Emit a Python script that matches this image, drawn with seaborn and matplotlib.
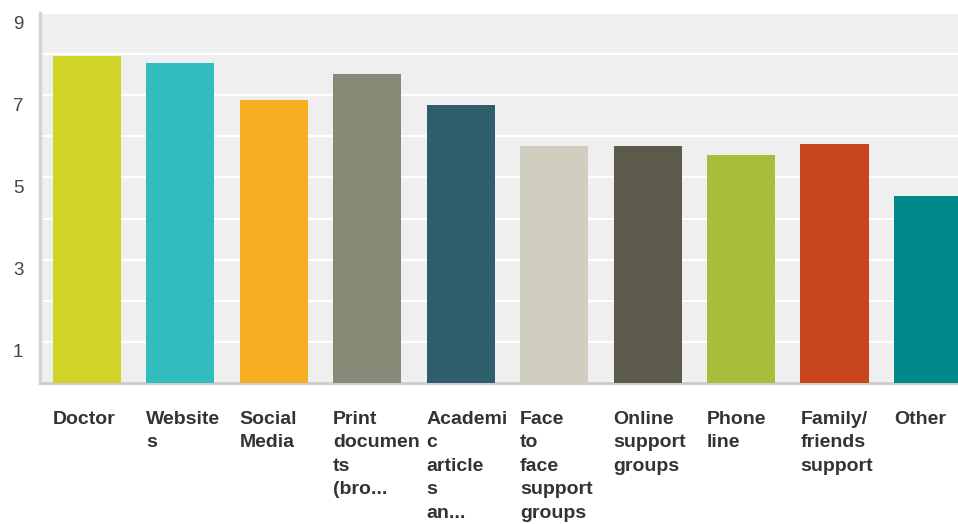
import matplotlib
matplotlib.use("Agg")
import matplotlib.pyplot as plt
import matplotlib.transforms as mtransforms
import seaborn as sns
import pandas as pd

# data
categories = ["Doctor", "Websites", "Social Media", "Print documents (brochures)",
              "Academic articles and", "Face to face support groups",
              "Online support groups", "Phone line", "Family/ friends support", "Other"]
tick_labels = ["Doctor", "Website\ns", "Social\nMedia", "Print\ndocumen\nts\n(bro...",
               "Academi\nc\narticle\ns\nan...", "Face\nto\nface\nsupport\ngroups",
               "Online\nsupport\ngroups", "Phone\nline", "Family/\nfriends\nsupport", "Other"]
values = [7.96, 7.79, 6.89, 7.52, 6.76, 5.77, 5.77, 5.54, 5.81, 4.55]
colors = ["#cfd427", "#33bdbe", "#f6ae22", "#888a78", "#2e5e6b",
          "#cfcebf", "#5c5a4a", "#aabd3a", "#c8461c", "#00898a"]

df = pd.DataFrame({"source": categories, "score": values})

sns.set_style("white")
plt.rcParams['font.family'] = ['Liberation Sans', 'DejaVu Sans']

fig = plt.figure(figsize=(9.58, 5.24), dpi=100)
ax = fig.add_axes([40/958, (524-383)/524, (958-40)/958, 370/524])
ax.set_facecolor("#efefef")

bar_w = 0.73
sns.barplot(data=df, x="source", y="score", hue="source", palette=colors,
            legend=False, width=bar_w, saturation=1, ax=ax, zorder=3,
            edgecolor="none", linewidth=0)

ax.set_ylim(0, 9)
ax.set_xlim(-0.5, 9.32)
ax.set_yticks([1, 3, 5, 7, 9])
ax.set_yticks(range(0, 10), minor=True)
ax.grid(axis="y", which="both", color="white", linewidth=1.6, zorder=0)
ax.set_axisbelow(True)
ax.tick_params(axis="y", which="both", length=0, pad=12, labelsize=13.5, labelcolor="#444444")
ax.tick_params(axis="x", length=0)
ax.set_xticks(range(len(categories)))
ax.set_xticklabels([])
ax.set_xlabel("")
ax.set_ylabel("")

# y labels sit a little below their gridlines in the reference
shift = mtransforms.ScaledTranslation(0, -9/100, fig.dpi_scale_trans)
for lab in ax.get_yticklabels():
    lab.set_transform(lab.get_transform() + shift)

# left-aligned, wrapped category labels under each bar
for i, lab in enumerate(tick_labels):
    ax.text(i - bar_w / 2, -0.075, lab, transform=ax.get_xaxis_transform(),
            ha="left", va="top", fontsize=14, fontweight="bold",
            color="#333333", linespacing=1.5)

for s in ["top", "right"]:
    ax.spines[s].set_visible(False)
ax.spines["left"].set_color("#d4d4d4")
ax.spines["left"].set_linewidth(2.5)
ax.spines["bottom"].set_color("#cccccc")
ax.spines["bottom"].set_linewidth(2)

fig.savefig("out.png", dpi=100)
